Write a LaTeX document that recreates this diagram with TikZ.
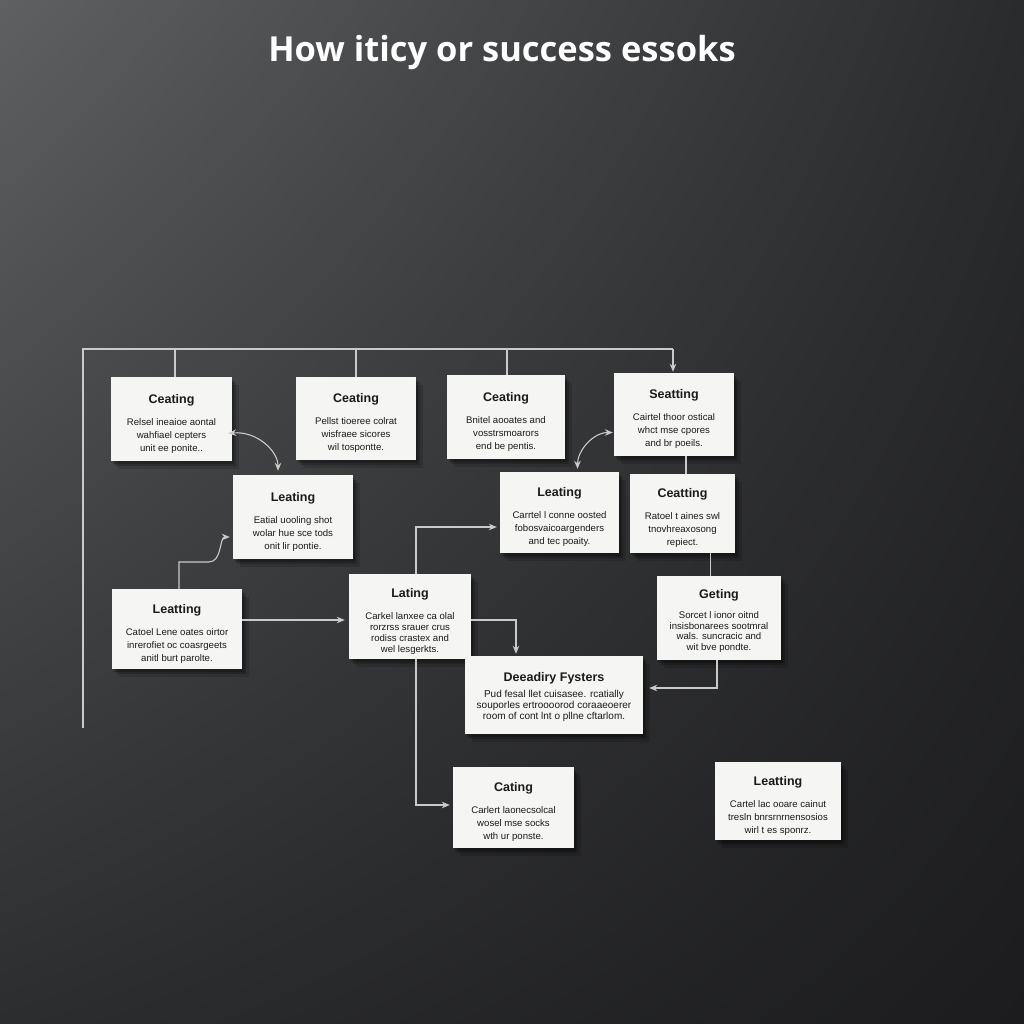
\documentclass[tikz,border=0pt]{standalone}
\usepackage{fontspec}
\setmainfont{Liberation Sans}
\newfontfamily\titlefamily{Open Sans}
\usetikzlibrary{arrows.meta,shadows,calc,shadings}
\definecolor{boxwhite}{HTML}{F5F5F3}
\definecolor{wire}{HTML}{CACACA}
\definecolor{inkc}{HTML}{1A1A1A}
\definecolor{bgul}{RGB}{94,96,98}
\definecolor{bgur}{RGB}{42,43,45}
\definecolor{bgll}{RGB}{44,45,47}
\definecolor{bglr}{RGB}{28,28,30}
\newcommand{\boxtitle}{\bfseries\fontsize{12.5}{14}\selectfont}
\newcommand{\bx}[6]{%
  \node[boxshape, minimum width=#3, minimum height=#4] (#1) at (#2) {};
  \node[boxtext] (#1t) at ([yshift=-4.5pt]#1.center) {{\boxtitle #5}\\[9pt]#6};}
\begin{document}
\begin{tikzpicture}[x=1pt,y=-1pt,
  boxshape/.style={fill=boxwhite, inner sep=0pt,
    drop shadow={shadow xshift=2pt,shadow yshift=-3pt,fill=black,opacity=.22},
    drop shadow={shadow xshift=4pt,shadow yshift=-5pt,fill=black,opacity=.2},
    drop shadow={shadow xshift=6.5pt,shadow yshift=-8pt,fill=black,opacity=.14}},
  boxtext/.style={text=inkc, align=center, inner sep=0pt,
    font=\fontsize{9.6}{13}\selectfont},
  wirel/.style={draw=wire, line width=1.1pt},
  tip/.style={wirel, -{Stealth[length=8pt,width=6.5pt]}},
  tipboth/.style={wirel, {Stealth[length=8pt,width=6.5pt]}-{Stealth[length=8pt,width=6.5pt]}}]
\useasboundingbox (0,0) rectangle (1024,1024);
\shade[upper left=bgul, upper right=bgur, lower left=bgll, lower right=bglr]
  (0,0) rectangle (1024,1024);
\node[text=white, font=\titlefamily\bfseries\fontsize{34.5}{40}\selectfont] (title) at (502,53) {How iticy or success essoks};

% bus
\coordinate (busL) at (83,349);
\coordinate (busR) at (673,349);
\coordinate (leftEnd) at (83,728);

\bx{A}{171.5,419}{121pt}{84pt}{Ceating}{Relsel ineaioe aontal\\wahfiael cepters\\unit ee ponite..}
\bx{B}{356,418.5}{120pt}{83pt}{Ceating}{Pellst tioeree colrat\\wisfraee sicores\\wil tospontte.}
\bx{C}{506,417}{118pt}{84pt}{Ceating}{Bnitel aooates and\\vosstrsmoarors\\end be pentis.}
\bx{D}{674,414.5}{120pt}{83pt}{Seatting}{Cairtel thoor ostical\\whct mse cpores\\and br poeils.}
\bx{E}{293,517}{120pt}{84pt}{Leating}{Eatial uooling shot\\wolar hue sce tods\\onit lir pontie.}
\bx{F}{559.5,512.5}{119pt}{81pt}{Leating}{Carrtel l conne oosted\\fobosvaicoargenders\\and tec poaity.}
\bx{G}{682.5,513.5}{105pt}{79pt}{Ceatting}{Ratoel t aines swl\\tnovhreaxosong\\repiect.}
\bx{H}{177,629}{130pt}{80pt}{Leatting}{Catoel Lene oates oirtor\\inrerofiet oc coasrgeets\\anitl burt parolte.}
\node[boxshape, minimum width=122pt, minimum height=85pt] (I) at (410,616.5) {};
\node[boxtext, font=\fontsize{9.6}{11}\selectfont] (It) at ([yshift=-4.5pt]I.center) {{\boxtitle Lating}\\[11pt]Carkel lanxee ca olal\\rorzrss srauer crus\\rodiss crastex and\\wel lesgerkts.};
\node[boxshape, minimum width=124pt, minimum height=84pt] (J) at (719,618) {};
\node[boxtext, font=\fontsize{9.6}{10.5}\selectfont] (Jt) at ([yshift=-3pt]J.center) {{\boxtitle Geting}\\[9.5pt]Sorcet l ionor oitnd\\insisbonarees sootmral\\wals. suncracic and\\wit bve pondte.};
\node[boxshape, minimum width=178pt, minimum height=78pt] (K) at (554,695) {};
\node[boxtext, font=\fontsize{10}{11}\selectfont] (Kt) at ([yshift=-2pt]K.center) {{\boxtitle Deeadiry Fysters}\\[5pt]Pud fesal llet cuisasee. rcatially\\souporles ertroooorod coraaeoerer\\room of cont lnt o pllne cftarlom.};
\bx{L}{513.5,807.5}{121pt}{81pt}{Cating}{Carlert laonecsolcal\\wosel mse socks\\wth ur ponste.}
\bx{M}{778,801}{126pt}{78pt}{Leatting}{Cartel lac ooare cainut\\tresln bnrsrnrnensosios\\wirl t es sponrz.}

% top bus
\draw[wirel] (leftEnd) -- (busL) -- (busR);
\draw[wirel] ([xshift=3.5pt]A.north) -- ([xshift=3.5pt]A.north |- busL);
\draw[wirel] (B.north) -- (B.north |- busL);
\draw[wirel] ([xshift=1pt]C.north) -- ([xshift=1pt]C.north |- busL);
\draw[tip, shorten >=1pt] (busR) -- (busR |- D.north);

% curved double arrows
\draw[tipboth, shorten <=-4pt, shorten >=4pt] ($(A.east)+(0,14)$) to[out=5,in=90] ($(E.north)+(-15,0)$);
\draw[tipboth, shorten <=1pt, shorten >=3pt] ($(D.west)+(0,18)$) to[out=180,in=90] ($(F.north)+(18,0)$);

% vertical links
\draw[wirel] ([xshift=12pt]D.south) -- ([xshift=12pt]D.south |- G.north);
\draw[wirel] ([xshift=28pt]G.south) -- ([xshift=28pt]G.south |- J.north);
\draw[tip, shorten >=6pt] ([xshift=-2pt]J.south) |- ([yshift=7pt]K.east);

% H to E
\draw[tip, shorten >=3pt] ([xshift=2pt]H.north) |- ($(E.west)+(-24,45)$) to[out=0,in=180] ($(E.west)+(0,20)$);
% H to I
\draw[tip, shorten >=4pt] ([yshift=9pt]H.east) -- ([yshift=9pt]H.east -| I.west);
% I to K
\draw[tip, shorten >=2pt] ([yshift=-3.5pt]I.east) -| ([xshift=-38pt]K.north);
% I to F
\draw[tip, shorten >=3pt] ([xshift=6pt]I.north) |- ([yshift=-14.5pt]F.west);
% I to L
\draw[tip, shorten >=3pt] ([xshift=6pt]I.south) |- ([yshift=2.5pt]L.west);
\end{tikzpicture}
\end{document}
